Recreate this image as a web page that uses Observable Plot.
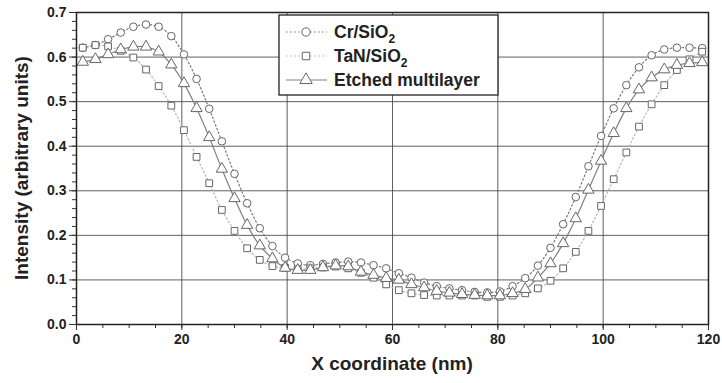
<!DOCTYPE html>
<html><head><meta charset="utf-8">
<script src="https://cdn.jsdelivr.net/npm/d3@7"></script>
<script src="https://cdn.jsdelivr.net/npm/@observablehq/plot@0.6"></script>
<style>
body{margin:0;background:#fff;}
#chart{position:relative;width:722px;height:383px;}
</style>
</head><body><div id="chart"></div>
<script>
const xNm = [1.2,3.6,6.0,8.4,10.8,13.2,15.6,18.0,20.4,22.8,25.2,27.6,30.0,32.4,34.8,37.2,39.6,42.0,44.4,46.8,49.2,51.6,54.0,56.4,58.8,61.2,63.6,66.0,68.4,70.8,73.2,75.6,78.0,80.4,82.8,85.2,87.6,90.0,92.4,94.8,97.2,99.6,102.0,104.4,106.8,109.2,111.6,114.0,116.4,118.8];
const crSiO2 = [0.621,0.627,0.640,0.655,0.668,0.673,0.668,0.647,0.606,0.551,0.484,0.411,0.338,0.272,0.216,0.176,0.150,0.137,0.133,0.136,0.139,0.141,0.139,0.133,0.126,0.115,0.105,0.094,0.086,0.081,0.077,0.073,0.072,0.074,0.086,0.104,0.132,0.172,0.225,0.286,0.355,0.423,0.485,0.537,0.577,0.604,0.617,0.621,0.621,0.620];
const tanSiO2 = [0.621,0.627,0.624,0.614,0.599,0.572,0.535,0.491,0.436,0.376,0.317,0.257,0.210,0.171,0.145,0.131,0.127,0.124,0.126,0.128,0.130,0.126,0.116,0.105,0.090,0.077,0.070,0.066,0.065,0.065,0.065,0.065,0.062,0.062,0.065,0.070,0.081,0.098,0.126,0.163,0.210,0.266,0.326,0.386,0.444,0.494,0.537,0.571,0.595,0.612];
const etched = [0.589,0.595,0.606,0.617,0.623,0.623,0.612,0.583,0.541,0.485,0.420,0.349,0.283,0.223,0.177,0.148,0.127,0.122,0.122,0.128,0.132,0.130,0.118,0.111,0.104,0.100,0.090,0.083,0.075,0.071,0.068,0.066,0.065,0.065,0.070,0.079,0.105,0.137,0.182,0.238,0.302,0.367,0.429,0.485,0.527,0.554,0.572,0.582,0.586,0.588];
const xMajor = [0,20,40,60,80,100,120];
const yMajor = [0.0,0.1,0.2,0.3,0.4,0.5,0.6,0.7];
const xTitle = "X coordinate (nm)";
const yTitle = "Intensity (arbitrary units)";

const series = [
  {name:"Cr/SiO", sub:"2", values:crSiO2, symbol:"circle", line:"#777", dash:"1.5,2.5", width:1.2, mark:"#666"},
  {name:"TaN/SiO", sub:"2", values:tanSiO2, symbol:"square", line:"#b5b5b5", dash:"1.5,2.5", width:1.2, mark:"#666"},
  {name:"Etched multilayer", sub:"", values:etched, symbol:"triangle", line:"#808080", dash:null, width:1.2, mark:"#666"}
];
const rows = s => xNm.map((x,i)=>({x, y:s.values[i]}));

const marks = [
  Plot.gridX(xMajor.slice(1,-1), {stroke:"#444", strokeOpacity:0.85, strokeWidth:1}),
  Plot.gridY(yMajor.slice(1,-1), {stroke:"#444", strokeOpacity:0.85, strokeWidth:1}),
  Plot.axisX({ticks: d3.range(0,121,5), tickSize:4, text:null, label:null, stroke:"#333"}),
  Plot.axisY({ticks: d3.range(0,0.701,0.02), tickSize:4, text:null, label:null, stroke:"#333"}),
  Plot.axisX({ticks: xMajor, tickSize:6, tickPadding:4, tickFormat:d=>d, label:null, stroke:"#333", fill:"#222"}),
  Plot.axisY({ticks: yMajor, tickSize:7, tickPadding:3, tickFormat:d=>d.toFixed(1), label:null, stroke:"#333", fill:"#222"}),
];
for (const s of series) {
  marks.push(Plot.line(rows(s), {x:"x", y:"y", curve:"catmull-rom", stroke:s.line, strokeWidth:s.width, strokeDasharray:s.dash}));
}
for (const s of series) {
  marks.push(Plot.dot(rows(s), {x:"x", y:"y", symbol:()=>s.symbol, r: s.symbol==="triangle"?4.2:3.8, stroke:s.mark, strokeWidth:1, fill:"white"}));
}
marks.push(Plot.frame({stroke:"#222", strokeWidth:1.5}));

const plot = Plot.plot({
  width:722, height:383,
  marginLeft:76, marginRight:14, marginTop:12, marginBottom:59,
  x:{domain:[0,120]},
  y:{domain:[0,0.7]},
  symbol:{type:"identity"},
  style:{fontFamily:"'Liberation Sans', Arial, sans-serif", fontWeight:"bold", fontSize:"14px", background:"#fff", color:"#222"},
  marks
});
document.getElementById("chart").appendChild(plot);

const svg = d3.select(plot);
const xs = plot.scale("x"), ys = plot.scale("y");
const pLeft = xs.range[0], pRight = xs.range[1], pTop = ys.range[1], pBottom = ys.range[0];
// axis titles
svg.append("text").attr("x",(pLeft+pRight)/2).attr("y",370).attr("text-anchor","middle")
  .attr("font-size",19).attr("font-weight","bold").attr("fill","#222").text(xTitle);
svg.append("text").attr("transform",`translate(21,${(pTop+pBottom)/2}) rotate(-90)`).attr("text-anchor","middle")
  .attr("dy","0.35em").attr("font-size",19).attr("font-weight","bold").attr("fill","#222").text(yTitle);

// legend
const lg = svg.append("g").attr("transform","translate(279,15)");
lg.append("rect").attr("x",0).attr("y",0).attr("width",219).attr("height",80)
  .style("fill","#ffffff").style("stroke","#222").style("stroke-width","1.3px");
series.forEach((s,i)=>{
  const cy = 17 + i*24;
  lg.append("line").attr("x1",7).attr("x2",48).attr("y1",cy).attr("y2",cy)
    .attr("stroke",s.line).attr("stroke-width",s.width).attr("stroke-dasharray",s.dash);
  const sym = {circle:d3.symbolCircle, square:d3.symbolSquare, triangle:d3.symbolTriangle}[s.symbol];
  const rr = s.symbol==="triangle"?4.6:4.2;
  lg.append("path").attr("d", d3.symbol(sym, Math.PI*rr*rr)()).attr("transform",`translate(27,${cy})`)
    .attr("fill","#fff").attr("stroke",s.mark).attr("stroke-width",1);
  const t = lg.append("text").attr("x",55).attr("y",cy+6).attr("text-anchor","start")
    .attr("font-size",17.5).attr("font-weight","bold").attr("fill","#222");
  t.append("tspan").text(s.name);
  if (s.sub) t.append("tspan").attr("dy",5).attr("font-size",12).text(s.sub);
});
</script>
</body></html>
